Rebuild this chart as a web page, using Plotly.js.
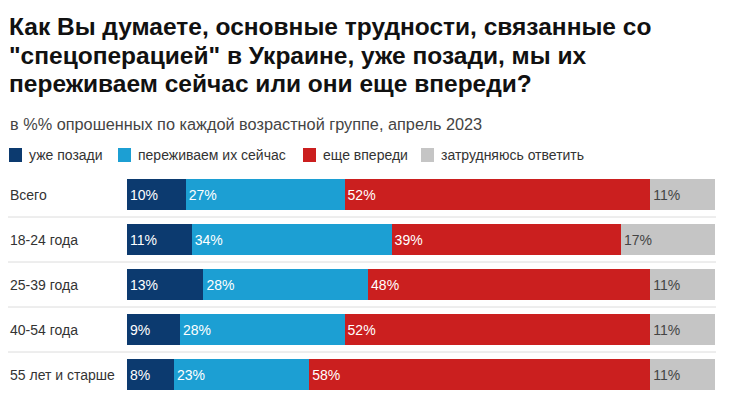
<!DOCTYPE html>
<html>
<head>
<meta charset="utf-8">
<script src="https://cdn.plot.ly/plotly-3.0.1.min.js"></script>
<style>
html,body{margin:0;padding:0;background:#fff;}
#chart{width:740px;height:406px;}
</style>
</head>
<body>
<div id="chart"></div>
<script>
// ---- data ----
var categories = ["Всего", "18-24 года", "25-39 года", "40-54 года", "55 лет и старше"];
var seriesNames = ["уже позади", "переживаем их сейчас", "еще впереди", "затрудняюсь ответить"];
var behind = [10, 11, 13, 9, 8];
var now = [27, 34, 28, 28, 23];
var ahead = [52, 39, 48, 52, 58];
var hard = [11, 17, 11, 11, 11];
var titleLines = ["Как Вы думаете, основные трудности, связанные со",
                  "\"спецоперацией\" в Украине, уже позади, мы их",
                  "переживаем сейчас или они еще впереди?"];
var subtitle = "в %% опрошенных по каждой возрастной группе, апрель 2023";

// ---- styling ----
var W = 740, H = 406;
var M = {l: 127, r: 25, t: 172, b: 9};
var colors = ["#0c3a6f", "#1c9fd3", "#cb1f1f", "#c5c5c5"];
var textColors = ["#ffffff", "#ffffff", "#ffffff", "#444444"];
var FONT = "Liberation Sans, Arial, Helvetica, sans-serif";

function px2x(px) { return (px - M.l) / (W - M.l - M.r); }
function px2y(py) { return (H - M.b - py) / (H - M.t - M.b); }

var values = [behind, now, ahead, hard];
var traces = values.map(function (v, i) {
  return {
    type: "bar",
    orientation: "h",
    name: seriesNames[i],
    y: categories,
    x: v,
    marker: {color: colors[i], line: {width: 0}},
    texttemplate: "%{x}%",
    textposition: "inside",
    insidetextanchor: "start",
    textangle: 0,
    constraintext: "none",
    textfont: {family: FONT, size: 14, color: textColors[i]},
    hoverinfo: "none",
    showlegend: false
  };
});

var shapes = [];
var annotations = [];

// title lines
var titleCenters = [26.5, 55, 83.5];
titleLines.forEach(function (t, i) {
  annotations.push({
    xref: "paper", yref: "paper", x: px2x(7), y: px2y(titleCenters[i]),
    xanchor: "left", yanchor: "middle", showarrow: false,
    text: t, font: {family: FONT, size: 24.5, color: "#111111", weight: "bold"}
  });
});

// separators between rows
for (var k = 0; k < categories.length - 1; k++) {
  shapes.push({
    type: "line", xref: "paper", yref: "y",
    x0: px2x(8), x1: px2x(716), y0: k + 0.5, y1: k + 0.5,
    line: {color: "#dcdcdc", width: 1}
  });
}

// category labels (left aligned)
categories.forEach(function (c) {
  annotations.push({
    xref: "paper", yref: "y", x: px2x(8), y: c,
    xanchor: "left", yanchor: "middle", showarrow: false,
    text: c, font: {family: FONT, size: 14, color: "#333333"}
  });
});

// subtitle
annotations.push({
  xref: "paper", yref: "paper", x: px2x(8), y: px2y(123.5),
  xanchor: "left", yanchor: "middle", showarrow: false,
  text: subtitle, font: {family: FONT, size: 16.3, color: "#444444"}
});

// custom legend
var legendX = [9, 118, 303, 421];
var legendY = 155;
seriesNames.forEach(function (n, i) {
  shapes.push({
    type: "rect", xref: "paper", yref: "paper",
    x0: px2x(legendX[i]), x1: px2x(legendX[i] + 13),
    y0: px2y(legendY + 7), y1: px2y(legendY - 7),
    fillcolor: colors[i], line: {width: 0}
  });
  annotations.push({
    xref: "paper", yref: "paper", x: px2x(legendX[i] + 18), y: px2y(legendY),
    xanchor: "left", yanchor: "middle", showarrow: false,
    text: n, font: {family: FONT, size: 14, color: "#333333"}
  });
});

var layout = {
  width: W, height: H,
  margin: M,
  paper_bgcolor: "#ffffff", plot_bgcolor: "#ffffff",
  barmode: "stack",
  bargap: 0.31,
  showlegend: false,
  xaxis: {range: [0, 100], showgrid: false, zeroline: false, showticklabels: false, fixedrange: true},
  yaxis: {autorange: "reversed", showgrid: false, zeroline: false, showticklabels: false, fixedrange: true, type: "category"},
  shapes: shapes,
  annotations: annotations,
  font: {family: FONT}
};

Plotly.newPlot("chart", traces, layout, {displayModeBar: false, staticPlot: true});
</script>
</body>
</html>
